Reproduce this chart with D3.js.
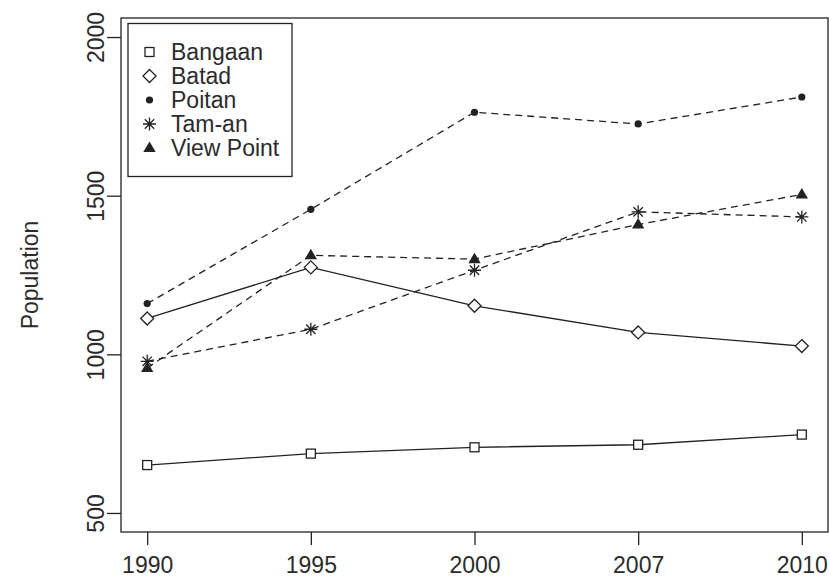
<!DOCTYPE html>
<html>
<head>
<meta charset="utf-8">
<script src="https://cdn.jsdelivr.net/npm/d3@7"></script>
<style>
  html, body { margin: 0; padding: 0; background: #fff; }
  svg { display: block; }
  text { font-family: "Liberation Sans", Arial, sans-serif; fill: #2b2b2b; }
</style>
</head>
<body>
<svg id="chart" width="829" height="583"></svg>
<script>
// Census years (plotted as evenly spaced categories)
const years = ["1990", "1995", "2000", "2007", "2010"];

// Population per barangay
const bangaan   = [651, 687, 707, 715, 747];
const batad     = [1113, 1274, 1153, 1069, 1026];
const poitan    = [1160, 1457, 1763, 1726, 1811];
const tamAn     = [978, 1079, 1265, 1449, 1433];
const viewPoint = [957, 1312, 1300, 1409, 1504];

const yTicks = [500, 1000, 1500, 2000];

const series = [
  { name: "Bangaan",    values: bangaan,   symbol: "square",   dashed: false },
  { name: "Batad",      values: batad,     symbol: "diamond",  dashed: false },
  { name: "Poitan",     values: poitan,    symbol: "dot",      dashed: true  },
  { name: "Tam-an",     values: tamAn,     symbol: "star",     dashed: true  },
  { name: "View Point", values: viewPoint, symbol: "triangle", dashed: true  }
];

const ink = "#222";
const textInk = "#2b2b2b";
const fontSize = 23;
const box = { left: 121, right: 828, top: 18, bottom: 532 };

const svg = d3.select("#chart");

const x = d3.scalePoint()
  .domain(years)
  .range([box.left, box.right])
  .padding(0.16);

const y = d3.scaleLinear()
  .domain([440, 2060])
  .range([box.bottom, box.top]);

// Plot frame
svg.append("rect")
  .attr("x", box.left).attr("y", box.top)
  .attr("width", box.right - box.left).attr("height", box.bottom - box.top)
  .attr("fill", "none").attr("stroke", ink).attr("stroke-width", 1.3);

// Axes (ticks sit outside the frame, no domain line)
const xAxis = svg.append("g")
  .attr("transform", `translate(0,${box.bottom})`)
  .call(d3.axisBottom(x).tickSize(13).tickPadding(12));
xAxis.select(".domain").remove();
xAxis.selectAll("line").attr("stroke", ink).attr("stroke-width", 1.3);
xAxis.selectAll("text")
  .attr("font-size", fontSize).attr("fill", textInk)
  .attr("font-family", "Liberation Sans, Arial, sans-serif");

const yAxis = svg.append("g")
  .attr("transform", `translate(${box.left},0)`)
  .call(d3.axisLeft(y).tickValues(yTicks).tickSize(14).tickFormat(d3.format("d")));
yAxis.select(".domain").remove();
yAxis.selectAll("line").attr("stroke", ink).attr("stroke-width", 1.3);
yAxis.selectAll("text")
  .attr("font-size", fontSize).attr("fill", textInk)
  .attr("font-family", "Liberation Sans, Arial, sans-serif")
  .attr("text-anchor", "middle")
  .attr("dy", null)
  .attr("x", null)
  .attr("transform", "translate(-17,0) rotate(-90)");

// Y axis title
svg.append("text")
  .attr("transform", `translate(38,${(box.top + box.bottom) / 2}) rotate(-90)`)
  .attr("text-anchor", "middle")
  .attr("font-size", fontSize)
  .text("Population");

// Marker drawing
function drawSymbol(g, type, cx, cy) {
  if (type === "square") {
    g.append("rect").attr("x", cx - 4.5).attr("y", cy - 4.5)
      .attr("width", 9).attr("height", 9)
      .attr("fill", "#fff").attr("stroke", ink).attr("stroke-width", 1.3);
  } else if (type === "diamond") {
    const r = 6.5;
    g.append("path")
      .attr("d", `M${cx},${cy - r}L${cx + r},${cy}L${cx},${cy + r}L${cx - r},${cy}Z`)
      .attr("fill", "#fff").attr("stroke", ink).attr("stroke-width", 1.3);
  } else if (type === "dot") {
    g.append("circle").attr("cx", cx).attr("cy", cy).attr("r", 3.6).attr("fill", ink);
  } else if (type === "star") {
    const r = 6.5;
    let d = `M${cx - r},${cy}L${cx + r},${cy}M${cx},${cy - r}L${cx},${cy + r}`;
    const q = r * 0.72;
    d += `M${cx - q},${cy - q}L${cx + q},${cy + q}M${cx - q},${cy + q}L${cx + q},${cy - q}`;
    g.append("path").attr("d", d).attr("stroke", ink).attr("stroke-width", 1.3).attr("fill", "none");
  } else if (type === "triangle") {
    const s = 6.5;
    g.append("path")
      .attr("d", `M${cx},${cy - s}L${cx + s * 0.95},${cy + s * 0.62}L${cx - s * 0.95},${cy + s * 0.62}Z`)
      .attr("fill", ink);
  }
}

const line = d3.line()
  .x((d, i) => x(years[i]))
  .y(d => y(d));

series.forEach(s => {
  const g = svg.append("g");
  g.append("path")
    .datum(s.values)
    .attr("d", line)
    .attr("fill", "none")
    .attr("stroke", ink)
    .attr("stroke-width", 1.3)
    .attr("stroke-dasharray", s.dashed ? "7,5" : null);
  s.values.forEach((v, i) => drawSymbol(g, s.symbol, x(years[i]), y(v)));
});

// Legend
const legend = svg.append("g");
legend.append("rect")
  .attr("x", 128).attr("y", 23.5)
  .attr("width", 164).attr("height", 153)
  .attr("fill", "#fff").attr("stroke", ink).attr("stroke-width", 1.3);

series.forEach((s, i) => {
  const cy = 52 + i * 24;
  drawSymbol(legend, s.symbol, 149.5, cy);
  legend.append("text")
    .attr("x", 171).attr("y", cy)
    .attr("dy", "0.36em")
    .attr("font-size", fontSize)
    .text(s.name);
});
</script>
</body>
</html>
